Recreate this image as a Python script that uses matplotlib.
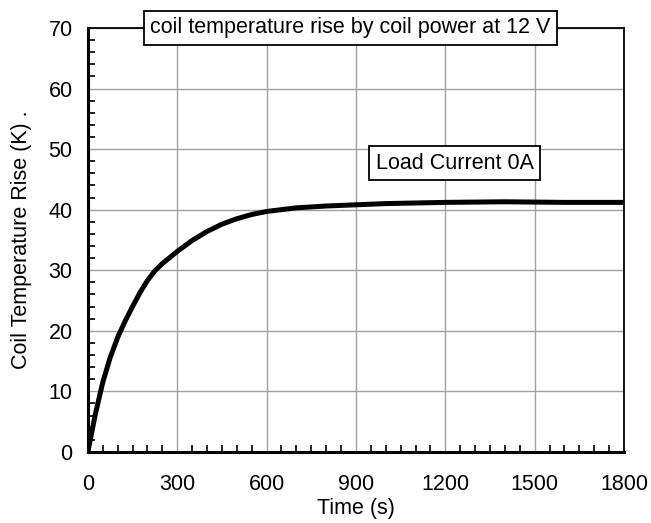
import matplotlib
matplotlib.use("Agg")
import matplotlib.pyplot as plt
from matplotlib.ticker import MultipleLocator

# coil temperature rise at 12 V, load current 0 A
time_s = [0, 10, 25, 50, 75, 100, 125, 150, 175, 200, 225, 250, 275, 300,
          350, 400, 450, 500, 550, 600, 700, 800, 900, 1000, 1200, 1400, 1600, 1800]
temp_rise = [0, 2.5, 6.2, 11.5, 15.6, 18.9, 21.6, 24.0, 26.3, 28.3, 29.9, 31.1, 32.1, 33.1,
             34.9, 36.4, 37.6, 38.5, 39.2, 39.7, 40.3, 40.6, 40.8, 41.0, 41.2, 41.3, 41.2, 41.2]

title = "coil temperature rise by coil power at 12 V"
series_label = "Load Current 0A"

plt.rcParams['font.family'] = ['Liberation Sans', 'DejaVu Sans']
plt.rcParams['font.size'] = 15.5

fig = plt.figure(figsize=(6.51, 5.23), dpi=100)
ax = fig.add_axes([0.135, 0.136, 0.8235, 0.8105])

ax.plot(time_s, temp_rise, color='black', lw=3.6, solid_capstyle='round', solid_joinstyle='round')

ax.set_xlim(0, 1800)
ax.set_ylim(0, 70)
ax.xaxis.set_major_locator(MultipleLocator(300))
ax.xaxis.set_minor_locator(MultipleLocator(50))
ax.yaxis.set_major_locator(MultipleLocator(10))
ax.yaxis.set_minor_locator(MultipleLocator(2))
ax.grid(True, which='major', color='#a0a0a0', lw=1)
ax.set_axisbelow(True)

ax.tick_params(which='both', direction='in', top=False, right=False, length=5, width=1.2)
ax.tick_params(axis='x', which='major', length=0, pad=16)
ax.tick_params(axis='y', which='major', length=0, pad=11)

for side in ['left', 'bottom']:
    ax.spines[side].set_linewidth(2.2)
for side in ['top', 'right']:
    ax.spines[side].set_linewidth(1.3)

ax.set_xlabel("Time (s)", labelpad=2)
ax.set_ylabel("Coil Temperature Rise (K) .", labelpad=12)

box = dict(boxstyle='square,pad=0.3', facecolor='white', edgecolor='black', lw=1.3)
ax.text(0.49, 1.0, title, transform=ax.transAxes, ha='center', va='center', bbox=box, zorder=5)
ax.text(1232, 47.7, series_label, ha='center', va='center', bbox=box, zorder=5)

fig.savefig("out.png", dpi=100)
